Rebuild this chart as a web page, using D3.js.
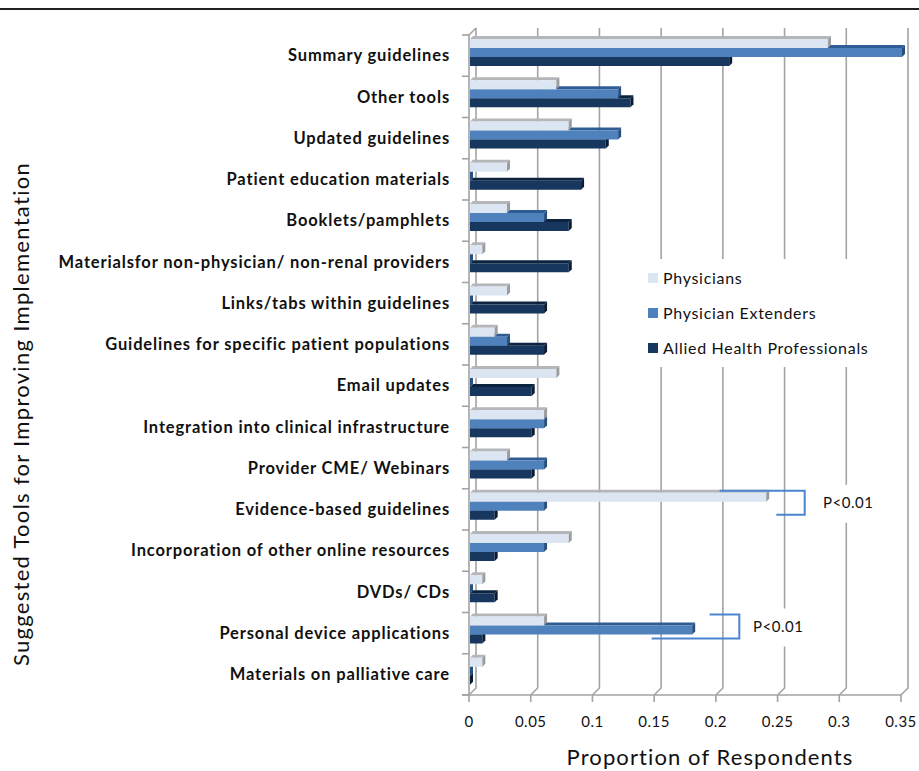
<!DOCTYPE html>
<html>
<head>
<meta charset="utf-8">
<script src="https://cdn.jsdelivr.net/npm/d3@7"></script>
<style>
  html, body { margin: 0; padding: 0; background: #fff; }
  svg { display: block; }
  text { font-family: Lato, "Open Sans", sans-serif; fill: #111; }
</style>
</head>
<body>
<svg id="chart" width="919" height="771"></svg>
<script>
// Suggested tools, listed top to bottom
const categories = [
  "Summary guidelines",
  "Other tools",
  "Updated guidelines",
  "Patient education materials",
  "Booklets/pamphlets",
  "Materialsfor non-physician/ non-renal providers",
  "Links/tabs within guidelines",
  "Guidelines for specific patient populations",
  "Email updates",
  "Integration into clinical infrastructure",
  "Provider CME/ Webinars",
  "Evidence-based guidelines",
  "Incorporation of other online resources",
  "DVDs/ CDs",
  "Personal device applications",
  "Materials on palliative care"
];

const seriesNames = ["Physicians", "Physician Extenders", "Allied Health Professionals"];

// Proportion of respondents per group
const physicians = [0.29, 0.07, 0.08, 0.03, 0.03, 0.01, 0.03, 0.02, 0.07, 0.06, 0.03, 0.24, 0.08, 0.01, 0.06, 0.01];
const extenders  = [0.35, 0.12, 0.12, 0.00, 0.06, 0.00, 0.00, 0.03, 0.00, 0.06, 0.06, 0.06, 0.06, 0.00, 0.18, 0.00];
const allied     = [0.21, 0.13, 0.11, 0.09, 0.08, 0.08, 0.06, 0.06, 0.05, 0.05, 0.05, 0.02, 0.02, 0.02, 0.01, 0.00];

const xTicks = [0, 0.05, 0.1, 0.15, 0.2, 0.25, 0.3, 0.35];
const xTickLabels = ["0", "0.05", "0.1", "0.15", "0.2", "0.25", "0.3", "0.35"];

// Significance brackets
const brackets = [
  { category: "Evidence-based guidelines", label: "P<0.01" },
  { category: "Personal device applications", label: "P<0.01" }
];

const seriesValues = [physicians, extenders, allied];
const faceColors = ["#dce6f2", "#4f81bd", "#17375e"];
const topColors  = ["#b4b6b9", "#2f5d93", "#0d2440"];
const sideColors = ["#9a9c9f", "#27507f", "#0a1c33"];

const svg = d3.select("#chart");

// Frame rule across the top
svg.append("line")
  .attr("x1", 0).attr("x2", 919).attr("y1", 9).attr("y2", 9)
  .attr("stroke", "#222").attr("stroke-width", 2);

// Scales: front plane of the 3-D plot, and the back wall shifted by the depth
const DEPTH = 7;
const x = d3.scaleLinear().domain([0, 0.35]).range([469, 901]);
const y = d3.scaleBand().domain(categories).range([35, 695]).padding(0);
const yInner = d3.scaleBand().domain(seriesNames).range([4, 31]).padding(0);

const plotTop = 35, plotBottom = 695;
const gridColor = "#a3a3a3";

// Back-wall gridlines with floor jog to the front ticks
const grid = svg.append("g");
xTicks.forEach(t => {
  const xb = x(t) + DEPTH;
  grid.append("path")
    .attr("d", `M${xb},${plotTop - DEPTH} L${xb},${plotBottom - DEPTH} L${x(t)},${plotBottom}`)
    .attr("fill", "none").attr("stroke", gridColor).attr("stroke-width", 1.6);
});

// Left wall edge
svg.append("path")
  .attr("d", `M${x(0)},${plotBottom} L${x(0)},${plotTop} L${x(0) + DEPTH},${plotTop - DEPTH}`)
  .attr("fill", "none").attr("stroke", gridColor).attr("stroke-width", 1.6);

// Floor front edge
svg.append("line")
  .attr("x1", x(0) - 7).attr("x2", x(0.35)).attr("y1", plotBottom).attr("y2", plotBottom)
  .attr("stroke", gridColor).attr("stroke-width", 1.6);

// Category ticks on the left axis
const catTicks = d3.range(categories.length + 1).map(i => 35 + i * y.step());
catTicks.forEach(ty => {
  svg.append("line")
    .attr("x1", x(0) - 7).attr("x2", x(0)).attr("y1", ty).attr("y2", ty)
    .attr("stroke", gridColor).attr("stroke-width", 1.6);
});

// Value ticks below the floor
xTicks.forEach(t => {
  svg.append("line")
    .attr("x1", x(t)).attr("x2", x(t)).attr("y1", plotBottom).attr("y2", plotBottom + 7)
    .attr("stroke", gridColor).attr("stroke-width", 1.6);
});

// Legend panel (white backing hides gridlines behind it)
const legend = svg.append("g");
legend.append("rect").attr("x", 636).attr("y", 259).attr("width", 264).attr("height", 108).attr("fill", "#fff");
seriesNames.forEach((name, i) => {
  const ly = 278 + i * 35;
  legend.append("rect").attr("x", 648).attr("y", ly - 5).attr("width", 10).attr("height", 10)
    .attr("fill", faceColors[i]);
  legend.append("text").attr("x", 663).attr("y", ly).attr("dy", "0.35em")
    .attr("font-size", 16).attr("letter-spacing", 0.7).text(name);
});

// Bars: drawn bottom series first so upper bars cover the top faces below them
const B = 3; // bar depth offset
const bars = svg.append("g");
categories.forEach((cat, ci) => {
  for (let si = seriesValues.length - 1; si >= 0; si--) {
    const v = seriesValues[si][ci];
    const x0 = x(0) + 1, x1 = x(v) + 1;
    const y0 = y(cat) + yInner(seriesNames[si]);
    const h = yInner.bandwidth();
    const g = bars.append("g");
    // top face
    g.append("path")
      .attr("d", `M${x0},${y0} L${x0 + B},${y0 - B} L${x1 + B},${y0 - B} L${x1},${y0} Z`)
      .attr("fill", topColors[si]);
    // front face
    g.append("rect").attr("x", x0).attr("y", y0).attr("width", Math.max(0, x1 - x0)).attr("height", h)
      .attr("fill", faceColors[si]);
    // end face
    g.append("path")
      .attr("d", `M${x1},${y0} L${x1 + B},${y0 - B} L${x1 + B},${y0 + h - B} L${x1},${y0 + h} Z`)
      .attr("fill", sideColors[si]);
  }
});

// Category labels
svg.append("g").selectAll("text").data(categories).join("text")
  .attr("x", 450)
  .attr("y", d => y(d) + y.step() / 2)
  .attr("dy", "0.35em")
  .attr("text-anchor", "end")
  .attr("font-size", 16.5).attr("font-weight", 700)
  .attr("letter-spacing", 0.85)
  .text(d => d);

// Value tick labels
svg.append("g").selectAll("text").data(xTicks).join("text")
  .attr("x", d => x(d))
  .attr("y", 722)
  .attr("dy", "0.35em")
  .attr("text-anchor", "middle")
  .attr("font-size", 15).attr("letter-spacing", 0.5)
  .text((d, i) => xTickLabels[i]);

// Axis titles
svg.append("text")
  .attr("x", 710).attr("y", 757).attr("dy", "0.35em")
  .attr("text-anchor", "middle").attr("font-size", 22).attr("letter-spacing", 1.1)
  .text("Proportion of Respondents");

svg.append("text")
  .attr("transform", "translate(21,414) rotate(-90)")
  .attr("dy", "0.35em")
  .attr("text-anchor", "middle").attr("font-size", 22).attr("letter-spacing", 1.3)
  .text("Suggested Tools for Improving Implementation");

// Significance brackets
const bracketColor = "#4a86d0";
function drawBracket(b, topStartX, botStartX, spineX, labelX) {
  const yTop = y(b.category) + 2;
  const yBot = y(b.category) + 26;
  const g = svg.append("g");
  g.append("rect").attr("x", labelX - 5).attr("y", (yTop + yBot) / 2 - 18)
    .attr("width", 62).attr("height", 38).attr("fill", "#fff");
  g.append("path")
    .attr("d", `M${topStartX},${yTop} L${spineX},${yTop} L${spineX},${yBot} L${botStartX},${yBot}`)
    .attr("fill", "none").attr("stroke", bracketColor).attr("stroke-width", 2);
  g.append("text").attr("x", labelX).attr("y", (yTop + yBot) / 2).attr("dy", "0.35em")
    .attr("font-size", 15).attr("letter-spacing", 0.5).text(b.label);
}
// Evidence-based: physicians vs allied; personal device: extenders vs allied
drawBracket(brackets[0], x(0.203), x(0.249), x(0.272), 823);
drawBracket(brackets[1], x(0.195), x(0.148), x(0.219), 753);
</script>
</body>
</html>
